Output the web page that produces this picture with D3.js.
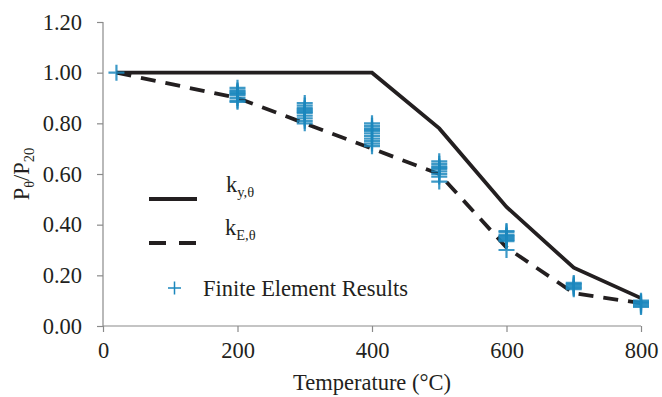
<!DOCTYPE html>
<html>
<head>
<meta charset="utf-8">
<script src="https://cdn.jsdelivr.net/npm/d3@7"></script>
<style>
  body { margin: 0; background: #fff; }
</style>
</head>
<body>
<svg id="chart" width="662" height="397"></svg>
<script>
// temperature steps for the two reduction-factor curves
const temps = [20, 200, 300, 400, 500, 600, 700, 800];
const kyValues = [1.0, 1.0, 1.0, 1.0, 0.78, 0.47, 0.23, 0.11];
const kEValues = [1.0, 0.9, 0.8, 0.7, 0.6, 0.31, 0.13, 0.09];

// finite element results, several runs per temperature
const feTemps = [20, 200, 300, 400, 500, 600, 700, 800];
const feValues = [
  [1.0],
  [0.94, 0.93, 0.925, 0.92, 0.915, 0.91, 0.90, 0.89, 0.885],
  [0.88, 0.87, 0.86, 0.855, 0.85, 0.845, 0.84, 0.83, 0.82, 0.81, 0.80],
  [0.80, 0.79, 0.78, 0.775, 0.77, 0.76, 0.75, 0.74, 0.73, 0.72, 0.71],
  [0.65, 0.64, 0.63, 0.625, 0.62, 0.61, 0.60, 0.59, 0.57],
  [0.375, 0.37, 0.36, 0.355, 0.35, 0.345, 0.34, 0.335, 0.30],
  [0.17, 0.165, 0.16, 0.155, 0.15, 0.145],
  [0.10, 0.095, 0.09, 0.085, 0.08, 0.075]
];

const xTicks = [0, 200, 400, 600, 800];
const yTicks = [0, 0.2, 0.4, 0.6, 0.8, 1.0, 1.2];

const serif = 'Liberation Serif';
const fs = 22.5;     // main text size
const fsSub = 14.5;  // subscripts
const svg = d3.select('#chart');
const x = d3.scaleLinear().domain([0, 800]).range([103, 641]);
const y = d3.scaleLinear().domain([0, 1.2]).range([326, 22]);

const axisColor = '#8a8a8a';
const ink = '#231f20';
const blue = '#1b87bd';

// y axis
const yAxis = svg.append('g')
  .attr('transform', `translate(${x(0)},0)`)
  .call(d3.axisLeft(y).tickValues(yTicks).tickSize(6).tickPadding(15).tickFormat(d3.format('.2f')));
// x axis
const xAxis = svg.append('g')
  .attr('transform', `translate(0,${y(0)})`)
  .call(d3.axisBottom(x).tickValues(xTicks).tickSize(6).tickPadding(10).tickFormat(d3.format('d')));

[yAxis, xAxis].forEach(a => {
  a.attr('font-family', serif).attr('font-size', fs);
  a.select('.domain').attr('stroke', axisColor).attr('stroke-width', 1.2);
  a.selectAll('.tick line').attr('stroke', axisColor).attr('stroke-width', 1.2);
  a.selectAll('.tick text').attr('fill', ink).attr('font-family', serif);
});
// keep only a plain domain line, no outer ticks
yAxis.select('.domain').attr('d', `M0,${y(1.2)}V${y(0)}`);
xAxis.select('.domain').attr('d', `M${x(0)},0H${x(800)}`);

// curves
const line = d3.line().x(d => x(d[0])).y(d => y(d[1]));

svg.append('path')
  .datum(temps.map((t, i) => [t, kyValues[i]]))
  .attr('d', line)
  .attr('fill', 'none')
  .attr('stroke', ink)
  .attr('stroke-width', 3.8);

svg.append('path')
  .datum(temps.map((t, i) => [t, kEValues[i]]))
  .attr('d', line)
  .attr('fill', 'none')
  .attr('stroke', ink)
  .attr('stroke-width', 3.8)
  .attr('stroke-dasharray', '15,10');

// FE markers (plus signs)
const pts = [];
feTemps.forEach((t, i) => feValues[i].forEach(v => pts.push([t, v])));
const half = 8;
svg.append('g').selectAll('path')
  .data(pts)
  .enter().append('path')
  .attr('d', d => `M${x(d[0]) - half},${y(d[1])}H${x(d[0]) + half}M${x(d[0])},${y(d[1]) - half}V${y(d[1]) + half}`)
  .attr('stroke', blue)
  .attr('stroke-width', 2.2)
  .attr('stroke-opacity', 0.85)
  .attr('fill', 'none');

// legend
const legend = svg.append('g').attr('font-family', serif);
legend.append('line')
  .attr('x1', 149).attr('x2', 197).attr('y1', 199).attr('y2', 199)
  .attr('stroke', ink).attr('stroke-width', 3.8);
legend.append('line')
  .attr('x1', 149).attr('x2', 197).attr('y1', 243).attr('y2', 243)
  .attr('stroke', ink).attr('stroke-width', 3.8).attr('stroke-dasharray', '17,13');
legend.append('path')
  .attr('d', 'M168,288H181M174.5,281.5V294.5')
  .attr('stroke', blue).attr('stroke-width', 1.5);

function subLabel(g, xPos, yPos, main, sub) {
  const t = g.append('text').attr('x', xPos).attr('y', yPos)
    .attr('fill', ink).attr('font-size', fs).attr('font-family', serif);
  t.append('tspan').text(main);
  t.append('tspan').attr('font-size', fsSub).attr('dy', 5).text(sub);
  return t;
}
subLabel(legend, 226, 192, 'k', 'y,θ');
subLabel(legend, 225, 235, 'k', 'E,θ');
legend.append('text').attr('x', 203).attr('y', 296)
  .attr('fill', ink).attr('font-size', fs).attr('font-family', serif)
  .text('Finite Element Results');

// axis titles
svg.append('text')
  .attr('x', (x(0) + x(800)) / 2).attr('y', 390)
  .attr('text-anchor', 'middle')
  .attr('fill', ink).attr('font-size', fs).attr('font-family', serif)
  .text('Temperature (°C)');

const yt = svg.append('text')
  .attr('transform', 'translate(29,174) rotate(-90)')
  .attr('text-anchor', 'middle')
  .attr('fill', ink).attr('font-size', fs).attr('font-family', serif);
yt.append('tspan').text('P');
yt.append('tspan').attr('font-size', fsSub).attr('dy', 5).text('θ');
yt.append('tspan').attr('dy', -5).text('/P');
yt.append('tspan').attr('font-size', fsSub).attr('dy', 5).text('20');
</script>
</body>
</html>
